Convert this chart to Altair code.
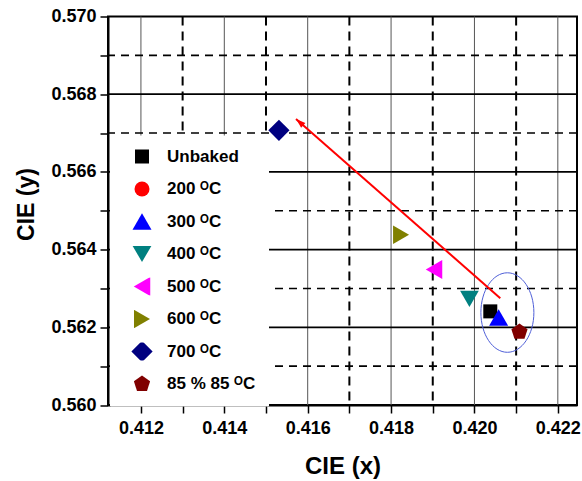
import altair as alt
import pandas as pd

FONT = "Liberation Sans"

# ---- legend / series definition ----
labels = ["Unbaked", "200 ᴼC", "300 ᴼC", "400 ᴼC", "500 ᴼC", "600 ᴼC", "700 ᴼC", "85 % 85 ᴼC"]
colors = ["#000000", "#ff0000", "#0000ff", "#008080", "#ff00ff", "#808000", "#000080", "#800000"]
PENTAGON = "M0,-1L0.951,-0.309L0.588,0.809L-0.588,0.809L-0.951,-0.309Z"
shapes = ["square", "circle", "triangle-up", "triangle-down", "triangle-left",
          "triangle-right", "diamond", PENTAGON]
marker_sizes = [196, 225, 361, 350, 361, 340, 450, 290]

# ---- visible data points (200 °C point is not visible in the figure) ----
point_labels = ["Unbaked", "300 ᴼC", "400 ᴼC", "500 ᴼC", "600 ᴼC", "700 ᴼC", "85 % 85 ᴼC"]
cie_x = [0.42038, 0.42058, 0.41988, 0.41903, 0.41824, 0.41531, 0.42108]
cie_y = [0.56241, 0.56225, 0.56273, 0.56349, 0.56438, 0.56707, 0.56188]

# ---- ticks / grid ----
x_major = [0.412, 0.414, 0.416, 0.418, 0.420, 0.422]
x_minor = [0.413, 0.415, 0.417, 0.419, 0.421]
y_major = [0.560, 0.562, 0.564, 0.566, 0.568, 0.570]
y_minor = [0.561, 0.563, 0.565, 0.567, 0.569]
y_grid_major = [0.562, 0.564, 0.566, 0.568]

# ---- annotations ----
arrow_x = [0.42062, 0.41572]
arrow_y = [0.56275, 0.56736]
ellipse_x = [0.42079]
ellipse_y = [0.56238]

points = pd.DataFrame({"x": cie_x, "y": cie_y, "label": point_labels})
xmaj = pd.DataFrame({"v": x_major})
xmin = pd.DataFrame({"v": x_minor})
ymaj = pd.DataFrame({"v": y_grid_major})
ymin = pd.DataFrame({"v": y_minor})
arrow = pd.DataFrame({"x": [arrow_x[0]], "y": [arrow_y[0]], "x2": [arrow_x[1]], "y2": [arrow_y[1]]})
head = pd.DataFrame({"x": [arrow_x[1]], "y": [arrow_y[1]]})
ell = pd.DataFrame({"x": ellipse_x, "y": ellipse_y})

xscale = alt.Scale(domain=[0.41121, 0.42246], nice=False, zero=False)
yscale = alt.Scale(domain=[0.560, 0.570], nice=False, zero=False)

x_ticks = sorted(x_major + x_minor)
y_ticks = sorted(y_major + y_minor)

xaxis = alt.Axis(
    values=x_ticks, title="CIE (x)", grid=False,
    labelExpr="round(datum.value*1000) % 2 == 0 ? format(datum.value, '.3f') : ''",
    tickSize=8, tickWidth=1.5, tickColor="black", labelPadding=6,
    domainColor="black", domainWidth=2,
    labelFont=FONT, labelFontSize=18, labelFontWeight="bold", labelColor="black",
    titleFont=FONT, titleFontSize=24, titleFontWeight="bold", titleColor="black",
    titleY=68, titleBaseline="alphabetic",
)
yaxis = alt.Axis(
    values=y_ticks, title="CIE (y)", grid=False,
    labelExpr="round(datum.value*1000) % 2 == 0 ? format(datum.value, '.3f') : ''",
    tickSize=8, tickWidth=1.5, tickColor="black", labelPadding=4,
    domainColor="black", domainWidth=2,
    labelFont=FONT, labelFontSize=18, labelFontWeight="bold", labelColor="black",
    titleFont=FONT, titleFontSize=23, titleFontWeight="bold", titleColor="black",
    titleX=-74.5, titleY=187.5, titleAngle=-90, titleBaseline="alphabetic",
)

X = lambda f: alt.X(f, type="quantitative", scale=xscale, axis=xaxis)
Y = lambda f: alt.Y(f, type="quantitative", scale=yscale, axis=yaxis)

grid_xminor = alt.Chart(xmin).mark_rule(color="black", strokeWidth=2, strokeDash=[9, 6]).encode(x=X("v"))
grid_xmajor = alt.Chart(xmaj).mark_rule(color="#555555", strokeWidth=1).encode(x=X("v"))
grid_yminor = alt.Chart(ymin).mark_rule(color="black", strokeWidth=1.6, strokeDash=[8, 6]).encode(y=Y("v"))
grid_ymajor = alt.Chart(ymaj).mark_rule(color="black", strokeWidth=1.8).encode(y=Y("v"))

ELLIPSE = "M-1,0A1,1.5,0,1,1,1,0A1,1.5,0,1,1,-1,0Z"
ellipse = alt.Chart(ell).mark_point(shape=ELLIPSE, filled=False, color="#4f5fd8",
                                    strokeWidth=1, size=2809, opacity=1).encode(x=X("x"), y=Y("y"))

arrow_line = alt.Chart(arrow).mark_rule(color="#ff0000", strokeWidth=2).encode(
    x=X("x"), y=Y("y"), x2="x2", y2="y2")
ARROWHEAD = "M0,0L-0.8,2.4L0.8,2.4Z"
arrow_head = alt.Chart(head).mark_point(shape=ARROWHEAD, filled=True, color="#ff0000",
                                        size=64, angle=311, opacity=1).encode(x=X("x"), y=Y("y"))

legend = alt.Legend(
    title=None, orient="none", legendX=2, legendY=119, padding=12,
    fillColor="white", strokeColor="white",
    labelFont=FONT, labelFontSize=17, labelFontWeight="bold", labelColor="black",
    symbolSize=230, symbolStrokeWidth=0, rowPadding=14.5, labelOffset=14, clipHeight=18,
    symbolOffset=9,
)

pts = alt.Chart(points).mark_point(filled=True, opacity=1, strokeWidth=0).encode(
    x=X("x"), y=Y("y"),
    color=alt.Color("label:N", scale=alt.Scale(domain=labels, range=colors), legend=legend),
    shape=alt.Shape("label:N", scale=alt.Scale(domain=labels, range=shapes), legend=legend),
    size=alt.Size("label:N", scale=alt.Scale(type="ordinal", domain=labels, range=marker_sizes), legend=None),
)

chart = alt.layer(
    grid_xminor, grid_xmajor, grid_yminor, grid_ymajor, ellipse, arrow_line, arrow_head, pts
).properties(
    width=469, height=388.5,
    autosize=alt.AutoSizeParams(type="none"),
    padding={"left": 108, "top": 16.5, "right": 5, "bottom": 76},
    background="white",
).configure_view(stroke="black", strokeWidth=2)

chart.save("out.html", embed_options={"renderer": "svg", "actions": False})
